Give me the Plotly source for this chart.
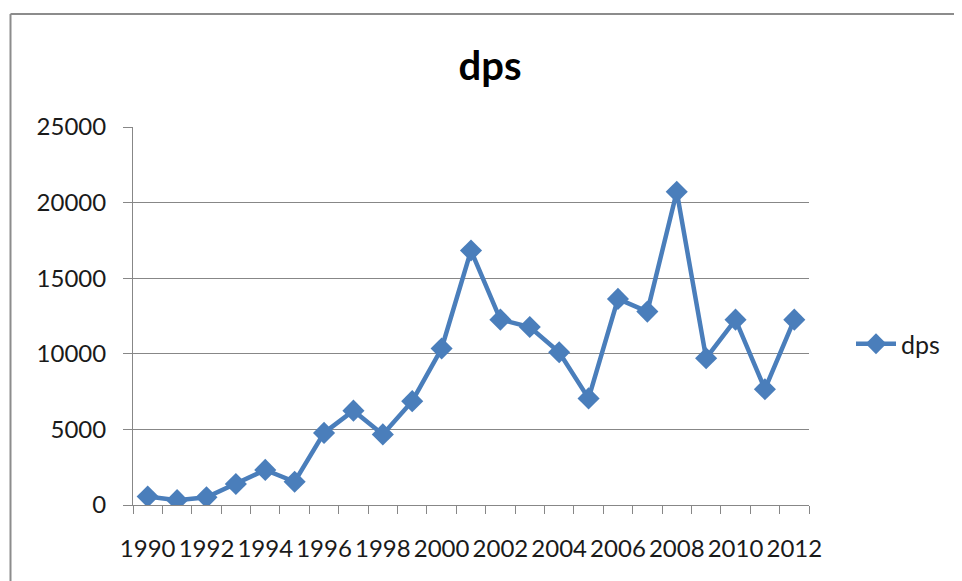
import plotly.graph_objects as go

years = list(range(1990, 2013))
dps = [560, 320, 510, 1390, 2320, 1540, 4770, 6240, 4670, 6870, 10350, 16830,
       12260, 11770, 10100, 7050, 13630, 12790, 20720, 9710, 12260, 7660, 12260]
y_ticks = [0, 5000, 10000, 15000, 20000, 25000]
x_tick_years = years[::2]

blue = "#4A7EBB"
grid = "#878787"
font_family = "Lato"

fig = go.Figure()
fig.add_trace(go.Scatter(
    x=years, y=dps, mode="lines+markers", name="dps",
    line=dict(color=blue, width=4.5),
    marker=dict(symbol="diamond", size=17, color=blue),
))

OFF = 8  # page body margin
W, H = 962 - OFF, 581 - OFF
L, T = 133 - OFF, 127 - OFF
R = W - (809 - OFF)
B = H - (505 - OFF)
pw, ph = W - L - R, H - T - B
# outer chart border (decoration): left and top edges only
bx0 = (10.5 - 133) / pw
bx1 = (W + OFF - 133) / pw
by1 = (505 - 14) / ph
by0 = (505 - 581) / ph
border = dict(color="#8c8c8c", width=2)

fig.update_layout(
    width=W, height=H,
    margin=dict(l=L, r=R, t=T, b=B),
    paper_bgcolor="white", plot_bgcolor="white",
    font=dict(family=font_family, size=24, color="#1a1a1a"),
    title=dict(text="<b>dps</b>", x=(490 - 133) / pw, xref="paper", xanchor="center",
               y=1 - (66 - OFF) / H, yref="container", yanchor="middle",
               font=dict(family=font_family, size=40, color="black")),
    showlegend=True,
    legend=dict(x=(851 - 133) / pw, xanchor="left", y=(505 - 344) / ph, yanchor="middle",
                font=dict(size=25), itemwidth=40, bgcolor="rgba(0,0,0,0)"),
    xaxis=dict(
        range=[years[0] - 0.5, years[-1] + 0.5],
        tickvals=x_tick_years, ticktext=[str(v) for v in x_tick_years],
        ticks="", showgrid=False, zeroline=False,
        showline=True, linecolor=grid, linewidth=1,
        ticklabelstandoff=22,
        minor=dict(ticks="outside", tick0=years[0] - 0.5, dtick=1, ticklen=8,
                   tickcolor=grid, showgrid=False),
    ),
    yaxis=dict(
        range=[0, 25000], tickvals=y_ticks, ticktext=[str(v) for v in y_ticks],
        ticks="outside", ticklen=9, tickcolor=grid,
        showgrid=True, gridcolor=grid, gridwidth=1, zeroline=False,
        showline=True, linecolor=grid, linewidth=1,
        ticklabelstandoff=12,
    ),
    shapes=[
        dict(type="line", xref="paper", yref="paper", x0=bx0, x1=bx0, y0=by0, y1=by1,
             line=border, layer="below"),
        dict(type="line", xref="paper", yref="paper", x0=bx0, x1=bx1, y0=by1, y1=by1,
             line=border, layer="below"),
    ],
)

fig.write_html("out.html", config={"displayModeBar": False})
